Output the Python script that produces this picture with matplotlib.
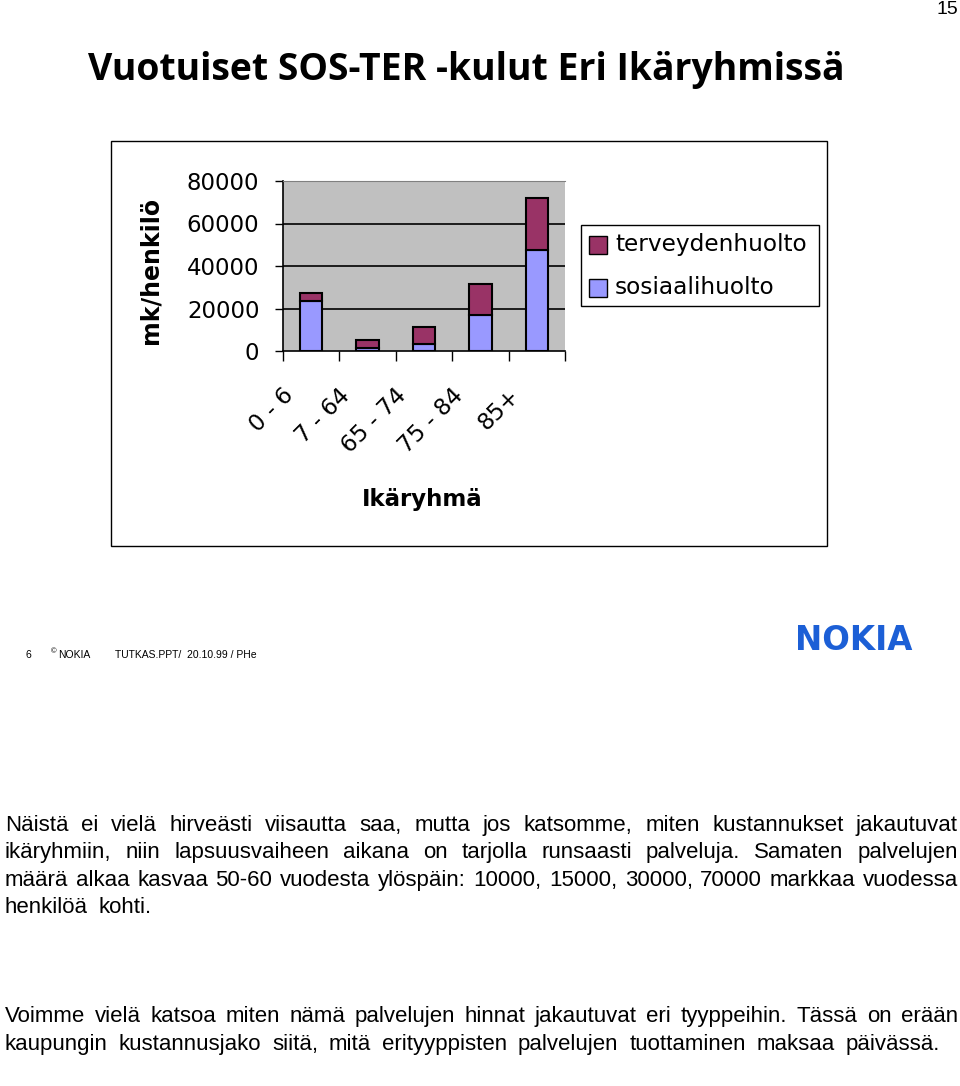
import matplotlib
matplotlib.use("Agg")
import matplotlib.pyplot as plt
from matplotlib.patches import Rectangle

W, H = 960, 1086

categories = ["0 - 6", "7 - 64", "65 - 74", "75 - 84", "85+"]
sosiaalihuolto = [23700, 1600, 3100, 16800, 47500]
terveydenhuolto = [3400, 3600, 8200, 14600, 24500]
yticks = [0, 20000, 40000, 60000, 80000]
series_names = ["terveydenhuolto", "sosiaalihuolto"]
colors = {"terveydenhuolto": "#993366", "sosiaalihuolto": "#9999FF"}

title = "Vuotuiset SOS-TER -kulut Eri Ikäryhmissä"
ylabel = "mk/henkilö"
xlabel = "Ikäryhmä"
page_no = "15"
para1 = [
    "Näistä ei vielä hirveästi viisautta saa, mutta jos katsomme, miten kustannukset jakautuvat",
    "ikäryhmiin, niin lapsuusvaiheen aikana on tarjolla runsaasti palveluja. Samaten palvelujen",
    "määrä alkaa kasvaa 50-60 vuodesta ylöspäin: 10000, 15000, 30000, 70000 markkaa vuodessa",
    "henkilöä kohti.",
]
para2 = [
    "Voimme vielä katsoa miten nämä palvelujen hinnat jakautuvat eri tyyppeihin. Tässä on erään",
    "kaupungin kustannusjako siitä, mitä erityyppisten palvelujen tuottaminen maksaa päivässä.",
]

fig = plt.figure(figsize=(W / 100, H / 100), dpi=100)
fig.patch.set_facecolor("white")
renderer = fig.canvas.get_renderer()


def fx(x):
    return x / W


def fy(y):
    return 1 - y / H


def fit_text(x, y, s, target_w, **kw):
    t = fig.text(fx(x), fy(y), s, **kw)
    w = t.get_window_extent(renderer).width
    t.set_fontsize(t.get_fontsize() * target_w / w)
    return t


# page number
fig.text(fx(958), fy(10), page_no, ha="right", va="center", fontsize=14,
         family="Liberation Sans")

# title
fit_text(88, 70, title, 757, ha="left", va="center", fontsize=28,
         family="Open Sans", fontweight="bold")

# chart frame
fig.patches.append(Rectangle((fx(111), fy(546)), fx(827) - fx(111), fy(141) - fy(546),
                             transform=fig.transFigure, fill=False, edgecolor="black",
                             lw=1.0))

# axes
ax = fig.add_axes([fx(283), fy(351), fx(565) - fx(283), fy(181) - fy(351)])
ax.set_facecolor("#C0C0C0")
x = list(range(len(categories)))
ax.bar(x, sosiaalihuolto, width=0.4, color=colors["sosiaalihuolto"],
       edgecolor="black", lw=1.5, zorder=3, label="sosiaalihuolto")
ax.bar(x, terveydenhuolto, width=0.4, bottom=sosiaalihuolto,
       color=colors["terveydenhuolto"], edgecolor="black", lw=1.5, zorder=3,
       label="terveydenhuolto")
ax.set_xlim(-0.5, len(categories) - 0.5)
ax.set_ylim(0, 80000)
ax.set_yticks(yticks)
ax.set_yticklabels([str(v) for v in yticks], fontsize=16.5, family="DejaVu Sans")
ax.tick_params(axis="y", direction="out", length=6, width=1, pad=11)
for v in yticks[1:]:
    ax.axhline(v, color="black", lw=1.2, zorder=1)
ax.set_xticks([i - 0.5 for i in range(len(categories) + 1)])
ax.set_xticklabels([])
ax.tick_params(axis="x", direction="out", length=7, width=1)
for sp in ["left", "bottom"]:
    ax.spines[sp].set_color("black")
    ax.spines[sp].set_linewidth(1.2)
ax.spines["top"].set_color("#808080")
ax.spines["right"].set_visible(False)

for i, c in enumerate(categories):
    ax.annotate(c, xy=(i, 0), xycoords=("data", "axes fraction"),
                xytext=(-13, -33), textcoords="offset pixels",
                rotation=45, ha="right", va="top", fontsize=16.5,
                family="DejaVu Sans")

fig.text(fx(150), fy(270), ylabel, rotation=90, ha="center", va="center",
         fontsize=17, fontweight="bold", family="DejaVu Sans")
fig.text(fx(422), fy(500), xlabel, ha="center", va="center",
         fontsize=16.5, fontweight="bold", family="DejaVu Sans")

# legend
fig.patches.append(Rectangle((fx(581), fy(306)), fx(819) - fx(581), fy(225) - fy(306),
                             transform=fig.transFigure, fill=False, edgecolor="black",
                             lw=1.0))
leg_y = {"terveydenhuolto": 245, "sosiaalihuolto": 288}
t0 = fit_text(615, leg_y["terveydenhuolto"], "terveydenhuolto", 193, ha="left",
              va="center", fontsize=16, family="DejaVu Sans")
for name in series_names:
    yy = leg_y[name]
    fig.patches.append(Rectangle((fx(589), fy(yy + 9)), fx(607) - fx(589), fy(yy - 9) - fy(yy + 9),
                                 transform=fig.transFigure, facecolor=colors[name],
                                 edgecolor="black", lw=1.0))
    if name != "terveydenhuolto":
        fig.text(fx(615), fy(yy), name, ha="left", va="center",
                 fontsize=t0.get_fontsize(), family="DejaVu Sans")

# footer
fig.text(fx(25), fy(655), "6", fontsize=7.5, ha="left", va="center", family="Liberation Sans")
fig.text(fx(51), fy(652), "©", fontsize=5.5, ha="left", va="center", family="Liberation Sans")
fig.text(fx(58), fy(655), "NOKIA", fontsize=7.5, ha="left", va="center", family="Liberation Sans")
fig.text(fx(115), fy(655), "TUTKAS.PPT/  20.10.99 / PHe", fontsize=7.5, ha="left",
         va="center", family="Liberation Sans")
fit_text(795, 640, "NOKIA", 117, ha="left", va="center", fontsize=20,
         family="DejaVu Sans", fontweight="bold", color="#1C5FD6")


def justify(lines, y0, dy, last_right, left=5, right=958, fs=16):
    for k, line in enumerate(lines):
        y = y0 + k * dy
        words = line.split(" ")
        r = last_right if k == len(lines) - 1 else right
        ts = [fig.text(0, fy(y), w, ha="left", va="baseline", fontsize=fs,
                       family="Liberation Sans") for w in words]
        ws = [t.get_window_extent(renderer).width for t in ts]
        gap = (r - left - sum(ws)) / (len(words) - 1)
        xx = left
        for t, w in zip(ts, ws):
            t.set_x(fx(xx))
            xx += w + gap


justify(para1, 831, 27.4, last_right=152)
justify(para2, 1022, 27.6, last_right=940)

fig.savefig("out.png", dpi=100)
